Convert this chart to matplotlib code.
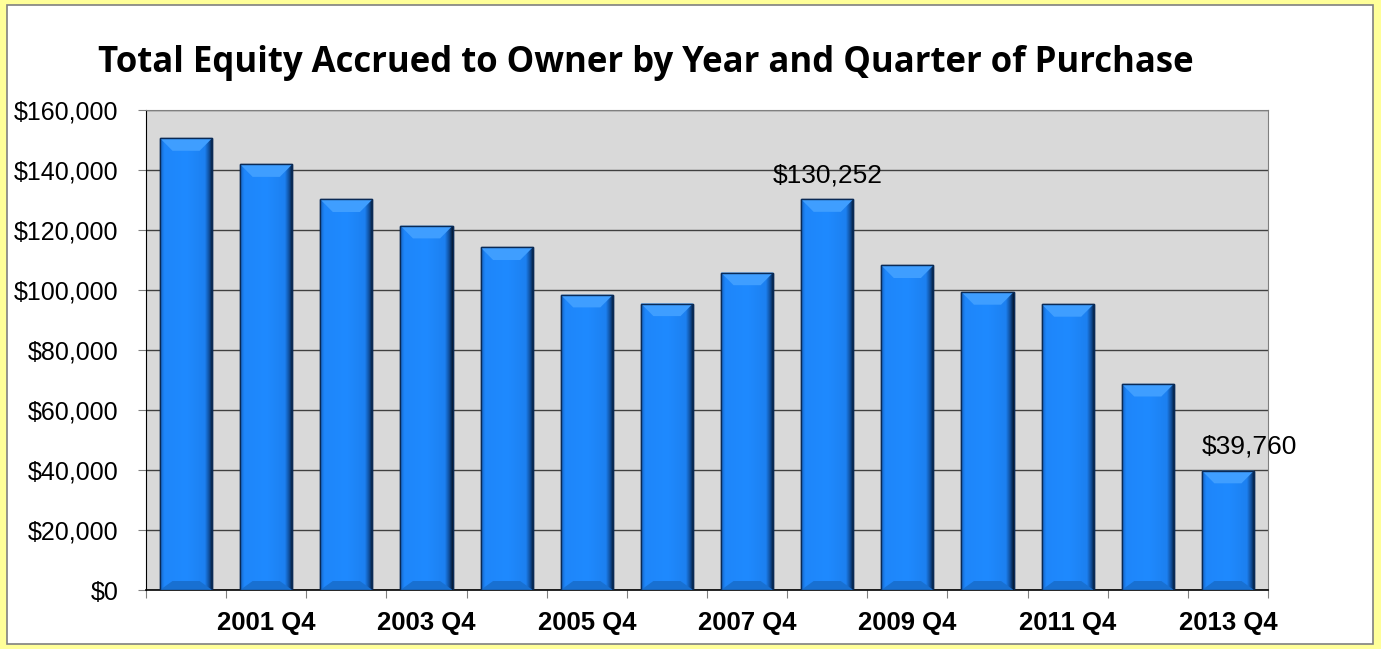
import numpy as np
from matplotlib import pyplot as plt
from matplotlib.patches import Rectangle, Polygon
from matplotlib.colors import LinearSegmentedColormap

quarters = ["2000 Q4", "2001 Q4", "2002 Q4", "2003 Q4", "2004 Q4", "2005 Q4", "2006 Q4",
            "2007 Q4", "2008 Q4", "2009 Q4", "2010 Q4", "2011 Q4", "2012 Q4", "2013 Q4"]
equity = [150600, 141900, 130200, 121400, 114200, 98400, 95500,
          105800, 130252, 108200, 99300, 95300, 68700, 39760]
labelled = [8, 13]

fig = plt.figure(figsize=(13.81, 6.49), dpi=100)
fig.patch.set_facecolor("#FFFF99")
fig.patches.append(Rectangle((7 / 1381, 5 / 649), 1366 / 1381, 639 / 649, transform=fig.transFigure,
                             facecolor="white", edgecolor="#808080", linewidth=1.2, zorder=-5))

ax = fig.add_axes([146 / 1381, 59 / 649, 1122 / 1381, 480 / 649])
ax.set_facecolor("#D9D9D9")

x = np.arange(len(equity))
bars = ax.bar(x, equity, width=0.65, color="#1E88FF", edgecolor="#0A2A55", linewidth=1.0, zorder=3)

# shading for the 3-D look of each bar
shade = LinearSegmentedColormap.from_list(
    "shade", [(0.0, "#1462C0"), (0.08, "#1E86FA"), (0.5, "#1F8AFF"), (0.85, "#1C80F0"),
              (0.93, "#0F4E9C"), (1.0, "#03152A")])
grad = np.linspace(0, 1, 256).reshape(1, -1)
for b in bars:
    x0, w, h = b.get_x(), b.get_width(), b.get_height()
    im = ax.imshow(grad, cmap=shade, aspect="auto", extent=(x0, x0 + w, 0, h), zorder=3.5)
    im.set_clip_path(b)
    bev = 0.24 * w
    top = Polygon([(x0, h), (x0 + w, h), (x0 + w - bev, h - 4200), (x0 + bev, h - 4200)],
                  closed=True, facecolor="#3F9EFF", edgecolor="none", zorder=4)
    ax.add_patch(top)
    bot = Polygon([(x0, 0), (x0 + w, 0), (x0 + w - bev, 3000), (x0 + bev, 3000)],
                  closed=True, facecolor="#1870D2", edgecolor="none", zorder=4)
    ax.add_patch(bot)
    ax.add_patch(Rectangle((x0, 0), w, h, facecolor="none", edgecolor="#0A2A55", linewidth=1.0, zorder=5))

label_shift = [0.0, 0.27]
for i, dx in zip(labelled, label_shift):
    ax.text(x[i] + dx, equity[i] + 4000, f"${equity[i]:,}", ha="center", va="bottom",
            fontsize=19, family="Liberation Sans", zorder=6, clip_on=False)

ax.set_xlim(-0.5, len(equity) - 0.5)
ax.set_ylim(0, 160000)
ax.set_yticks(np.arange(0, 160001, 20000))
ax.set_yticklabels([f"${v:,}" for v in range(0, 160001, 20000)], fontsize=18, family="Liberation Sans")
ax.yaxis.grid(True, color="#404040", linewidth=1.0, zorder=1)
ax.set_axisbelow(True)

ax.set_xticks(np.arange(-0.5, len(equity), 1.0))
ax.set_xticklabels([])
ax.set_xticks(x[1::2], minor=True)
ax.set_xticklabels(quarters[1::2], minor=True, fontsize=18.5, fontweight="bold", family="Liberation Sans")
ax.tick_params(axis="x", which="major", length=6, color="#808080", direction="out")
ax.tick_params(axis="x", which="minor", length=0, pad=15)
ax.tick_params(axis="y", length=6, color="#808080", pad=14)

for s in ["top", "right"]:
    ax.spines[s].set_color("#808080")
ax.spines["left"].set_color("black")
ax.spines["bottom"].set_color("black")
ax.spines["bottom"].set_linewidth(1.2)

fig.text(646 / 1381, 1 - 63 / 649, "Total Equity Accrued to Owner by Year and Quarter of Purchase",
         ha="center", va="center", fontsize=25, fontweight="bold", family="Open Sans")

fig.savefig("out.png", dpi=100, facecolor=fig.get_facecolor())
